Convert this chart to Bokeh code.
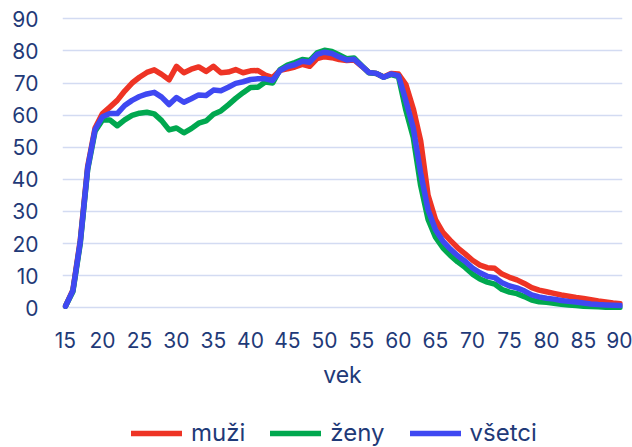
from bokeh.plotting import figure
from bokeh.models import Range1d, FixedTicker, Legend, LegendItem
from bokeh.layouts import column
from bokeh.embed import file_html
from bokeh.resources import INLINE

ages = list(range(15, 91))

muzi = [0.5, 5.5, 21, 44, 56, 60.5, 62.5, 64.6, 67.5, 70, 71.8, 73.3, 74.1, 72.7, 71,
        75.2, 73.2, 74.3, 75, 73.6, 75.2, 73.2, 73.4, 74.2, 73.2, 73.8, 73.9, 72.5, 71.7,
        74, 74.4, 75, 75.8, 75.2, 77.6, 78.2, 77.9, 77.3, 77, 77.2, 75.3, 73.3, 73, 71.9,
        73, 72.8, 69.5, 62, 52, 35, 27.5, 23.5, 21, 18.7, 16.8, 14.8, 13.3, 12.5, 12.3,
        10.5, 9.5, 8.7, 7.6, 6.3, 5.5, 5.0, 4.5, 4.0, 3.6, 3.2, 2.9, 2.5, 2.1, 1.8, 1.5, 1.3]

zeny = [0.5, 5, 20, 43, 55, 58.5, 58.5, 56.7, 58.5, 59.9, 60.6, 60.9, 60.4, 58.3, 55.4,
        56, 54.5, 55.8, 57.5, 58.2, 60.3, 61.3, 63.2, 65.2, 67, 68.6, 68.7, 70.3, 70,
        74.2, 75.6, 76.4, 77.3, 77, 79.4, 80.2, 79.8, 78.7, 77.6, 77.8, 75.5, 73.2, 73, 71.8,
        72.6, 72, 61.5, 53, 38, 27.5, 22, 18.7, 16.3, 14.3, 12.6, 10.5, 9.0, 8.0, 7.4,
        5.7, 4.9, 4.4, 3.5, 2.4, 1.9, 1.7, 1.4, 1.1, 0.9, 0.7, 0.5, 0.4, 0.3, 0.2, 0.2, 0.2]

vsetci = [0.5, 5.3, 20.5, 43.5, 55.5, 59.5, 60.5, 60.5, 63, 64.6, 65.8, 66.6, 67.1, 65.6, 63.3,
          65.5, 64, 65.1, 66.3, 66.1, 67.8, 67.6, 68.7, 69.9, 70.4, 71.1, 71.3, 71.3, 70.8,
          73.9, 75.1, 75.7, 76.8, 76.5, 78.9, 79.6, 79.2, 78.1, 77.2, 77.4, 75.4, 73.3, 73, 71.8,
          72.8, 72.3, 64.5, 56, 42, 30.5, 24.3, 20.8, 18.3, 16.2, 14.5, 12.4, 10.9, 9.8, 9.4,
          7.8, 6.8, 6.2, 5.3, 4.0, 3.4, 3.0, 2.7, 2.3, 2.0, 1.8, 1.5, 1.2, 1.0, 0.9, 0.8, 0.7]

x_ticks = list(range(15, 91, 5))
y_ticks = list(range(0, 91, 10))
series_names = ["muži", "ženy", "všetci"]
colors = ["#ee3425", "#00a84f", "#3f48f2"]

FONT = "Inter"
TXT = "#1f3a78"
LW = 5.5

p = figure(width=632, height=410,
           x_range=Range1d(14.6, 90.27), y_range=Range1d(-1.15, 91.03),
           output_backend="svg", toolbar_location=None,
           min_border_left=62, min_border_right=10, min_border_top=15, min_border_bottom=99)
p.outline_line_color = None
p.background_fill_color = "white"
p.border_fill_color = "white"

for ys, c in zip([muzi, zeny, vsetci], colors):
    p.line(ages, ys, line_color=c, line_width=LW, line_join="round", line_cap="round")

p.xaxis.ticker = FixedTicker(ticks=x_ticks)
p.yaxis.ticker = FixedTicker(ticks=y_ticks)
for ax in (p.xaxis, p.yaxis):
    ax.axis_line_color = None
    ax.major_tick_line_color = None
    ax.minor_tick_line_color = None
    ax.major_label_text_font = FONT
    ax.major_label_text_font_size = "21px"
    ax.major_label_text_color = TXT
p.yaxis.major_label_standoff = 18
p.xaxis.major_label_standoff = 14
p.xaxis.axis_label = "vek"
p.xaxis.axis_label_text_font = FONT
p.xaxis.axis_label_text_font_size = "23px"
p.xaxis.axis_label_text_font_style = "normal"
p.xaxis.axis_label_text_color = TXT
p.xaxis.axis_label_standoff = 10

p.xgrid.visible = False
p.ygrid.grid_line_color = "#d3dbf2"
p.ygrid.grid_line_width = 1.5

# legend strip below the chart (key lines only, no data drawn)
lg = figure(width=632, height=37, x_range=Range1d(0, 1), y_range=Range1d(0, 1),
            output_backend="svg", toolbar_location=None,
            x_axis_location=None, y_axis_location=None,
            min_border_left=0, min_border_right=0, min_border_top=0, min_border_bottom=0)
lg.grid.visible = False
lg.outline_line_color = None
lg.background_fill_color = "white"
lg.border_fill_color = "white"
nan = float("nan")
keys = [lg.line([nan], [nan], line_color=c, line_width=LW, line_cap="round") for c in colors]

legend = Legend(items=[LegendItem(label=n, renderers=[r]) for n, r in zip(series_names, keys)],
                orientation="horizontal", location=(69, 0),
                glyph_width=51, glyph_height=20, label_standoff=9, spacing=25,
                padding=0, margin=0, border_line_color=None, background_fill_alpha=0,
                label_text_font=FONT, label_text_font_size="24px", label_text_color=TXT)
lg.add_layout(legend, "center")

layout = column(p, lg, spacing=0)
open("out.html", "w").write(file_html(layout, INLINE))
